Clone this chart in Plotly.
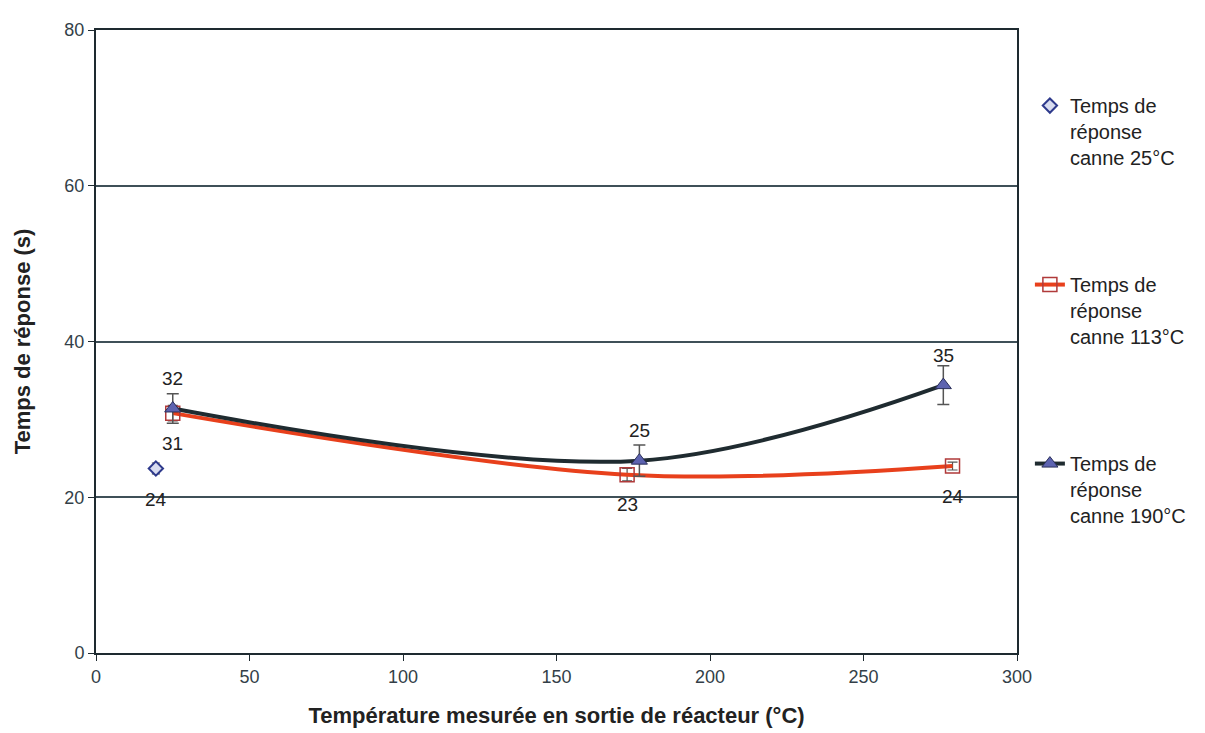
import plotly.graph_objects as go

# Données
x_25 = [19.5]
y_25 = [23.7]
err_25 = [0.7]
lbl_25 = ["24"]

x_113 = [25, 173, 279]
y_113 = [30.8, 22.9, 24.0]
err_113 = [1.0, 0.8, 0.5]
lbl_113 = ["31", "23", "24"]

x_190 = [25, 177, 276]
y_190 = [31.4, 24.7, 34.4]
err_190 = [1.9, 2.0, 2.5]
lbl_190 = ["32", "25", "35"]

FONT = "Liberation Sans, Arial, sans-serif"
GRID = "#3f5058"
AXIS = "#1e2a30"

fig = go.Figure()

fig.add_trace(go.Scatter(
    x=x_25, y=y_25, mode="markers", name="Temps de<br>réponse<br>canne 25°C",
    marker=dict(symbol="diamond", size=11, color="#d8dcf0", line=dict(color="#2e3a8c", width=2)),
    error_y=dict(type="data", array=err_25, color="#444", thickness=1.2, width=4),
    legendgroup="a",
))

fig.add_trace(go.Scatter(
    x=x_113, y=y_113, mode="lines+markers", name="Temps de<br>réponse<br>canne 113°C",
    line=dict(color="#e8401c", width=4, shape="spline", smoothing=1.0),
    marker=dict(symbol="square-open", size=14, color="#b03a3a", line=dict(width=1.5)),
    error_y=dict(type="data", array=err_113, color="#555", thickness=1.2, width=5),
    legendgroup="b",
))

fig.add_trace(go.Scatter(
    x=x_190, y=y_190, mode="lines+markers", name="Temps de<br>réponse<br>canne 190°C",
    line=dict(color="#1f2b30", width=4, shape="spline", smoothing=1.0),
    marker=dict(symbol="triangle-up", size=14, color="#5d63b0", line=dict(color="#2a2f5a", width=1)),
    error_y=dict(type="data", array=err_190, color="#555", thickness=1.5, width=6),
    legendgroup="c",
))

# étiquettes de données
for xs, ys, lbls, shift in [(x_25, y_25, lbl_25, -31), (x_113, y_113, lbl_113, -30), (x_190, y_190, lbl_190, 30)]:
    for xv, yv, t in zip(xs, ys, lbls):
        fig.add_annotation(x=xv, y=yv, text=t, showarrow=False, yshift=shift,
                           font=dict(size=19, color="#222", family=FONT))

fig.update_layout(
    width=1205, height=733,
    margin=dict(l=88, r=196, t=12, b=88),
    paper_bgcolor="white", plot_bgcolor="white",
    font=dict(family=FONT, size=18, color="#333f48"),
    legend=dict(
        x=1.014, xanchor="left", y=0.91, yanchor="top",
        tracegroupgap=98, valign="top",
        font=dict(size=20, color="#222", family=FONT),
        itemwidth=30,
    ),
    xaxis=dict(
        range=[0, 300], dtick=50, showgrid=False,
        showline=True, linecolor=AXIS, linewidth=2, mirror=True,
        ticks="outside", ticklen=6, tickcolor=AXIS,
        tickfont=dict(size=18, color="#333f48"),
        title=dict(text="<b>Température mesurée en sortie de réacteur (°C)</b>",
                   font=dict(size=22, color="#222"), standoff=22),
        zeroline=False,
    ),
    yaxis=dict(
        range=[0, 80], dtick=20, showgrid=True, gridcolor=GRID, gridwidth=2,
        showline=True, linecolor=AXIS, linewidth=2, mirror=True,
        ticks="outside", ticklen=6, tickcolor=AXIS,
        tickfont=dict(size=18, color="#333f48"),
        title=dict(text="<b>Temps de réponse (s)</b>",
                   font=dict(size=22, color="#222"), standoff=28),
        zeroline=False,
    ),
)

fig.write_html("out.html")
